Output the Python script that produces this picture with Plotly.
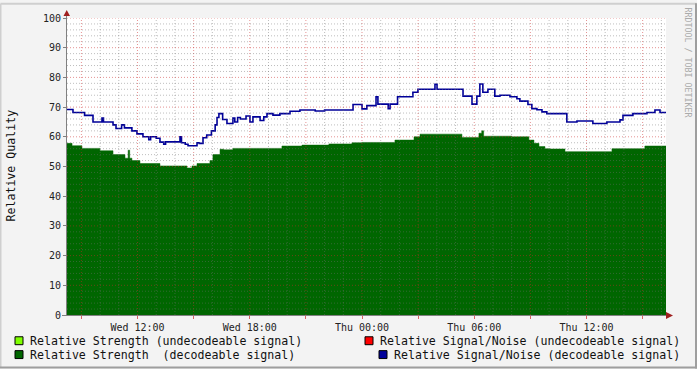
import plotly.graph_objects as go
import math

# ---- data (hours since Wed 00:00) ----
snr_t = [8.23, 8.55, 9.17, 9.62, 10.10, 10.18, 10.69, 10.85, 11.15, 11.30, 11.70, 11.97,
         12.29, 12.60, 12.70, 13.00, 13.20, 13.40, 13.50, 14.20, 14.27, 14.35, 14.55, 14.70,
         15.18, 15.30, 15.50, 15.70, 15.95, 16.15, 16.25, 16.35, 16.55, 16.78, 17.10, 17.20,
         17.35, 17.50, 17.80, 18.01, 18.17, 18.55, 18.75, 18.92, 19.24, 19.61, 20.15, 20.68,
         21.50, 22.00, 23.52, 24.00, 24.26, 24.75, 24.85, 25.40, 25.50, 25.90, 26.72, 26.99,
         27.90, 28.01, 29.40, 29.88, 30.14, 30.30, 30.46, 30.73, 31.10, 31.37, 31.91, 32.28,
         32.44, 32.87, 33.08, 33.35, 33.62, 33.88, 34.95, 35.49, 36.34, 37.09, 37.79, 37.95,
         38.48, 39.23, 39.66, 39.93, 40.25]
snr_v = [69.2, 68.2, 67.2, 65.0, 66.3, 65.0, 64.0, 62.8, 64.0, 63.0, 62.0, 61.0,
         60.0, 59.0, 60.0, 59.5, 58.2, 57.5, 58.3, 58.3, 60.0, 58.0, 57.5, 57.0,
         58.0, 57.8, 59.7, 60.6, 62.0, 64.0, 66.5, 67.8, 65.8, 64.5, 66.3, 65.0,
         66.5, 66.0, 67.0, 65.0, 66.7, 65.5, 66.7, 67.8, 67.3, 67.8, 68.6, 69.0,
         68.7, 69.0, 70.9, 69.4, 70.5, 73.5, 71.0, 69.5, 71.0, 73.5, 75.0, 76.0,
         77.7, 76.0, 73.7, 71.0, 73.7, 77.8, 75.0, 76.0, 73.7, 74.0, 73.5, 72.8,
         72.0, 70.9, 69.5, 69.1, 68.4, 67.8, 65.0, 65.3, 64.5, 65.0, 65.7, 67.2,
         67.8, 68.2, 69.0, 68.2, 68.2]

str_t = [8.23, 8.50, 9.03, 9.99, 10.69, 11.33, 11.50, 11.58, 11.70, 12.13, 13.20, 14.64,
         14.91, 15.18, 15.87, 16.03, 16.41, 16.60, 17.10, 19.72, 20.79, 22.23, 23.46, 24.00,
         25.76, 26.78, 27.10, 29.34, 30.25, 30.40, 30.50, 32.01, 32.92, 33.19, 33.46, 33.78,
         34.05, 34.85, 37.36, 39.12, 40.25]
str_v = [57.8, 57.0, 56.1, 55.3, 54.0, 52.8, 55.5, 52.8, 52.0, 51.0, 50.2, 49.5,
         50.2, 51.0, 52.0, 54.0, 55.8, 55.6, 56.1, 56.9, 57.2, 57.6, 58.0, 58.1,
         58.9, 60.0, 60.9, 59.8, 61.2, 62.0, 60.2, 60.0, 58.9, 57.8, 56.7, 56.0,
         55.9, 55.0, 56.0, 56.9, 56.9]

xtick_vals = [9, 12, 15, 18, 21, 24, 27, 30, 33, 36, 39]
xtick_text = ["", "Wed 12:00", "", "Wed 18:00", "", "Thu 00:00", "", "Thu 06:00", "", "Thu 12:00", ""]

legend_labels = ["Relative Strength (undecodeable signal)",
                 "Relative Signal/Noise (undecodeable signal)",
                 "Relative Strength \u00a0(decodeable signal)",
                 "Relative Signal/Noise (decodeable signal)"]
legend_colors = ["#7FFF00", "#FF0000", "#006600", "#000099"]

X0, X1 = 8.23, 40.25
Y0, Y1 = 0, 100

# ---- geometry helpers ----
W, H = 697, 369
L, R, T, B = 67, 31, 15, 54
PW, PH = W - L - R, H - T - B
def px(x): return (x - L) / PW
def py(y): return (H - B - y) / PH

MONO = "DejaVu Sans Mono"
MAJ = "rgba(205,40,40,0.5)"
MIN = "rgba(110,110,110,0.45)"
DASH = "1px,2px"

fig = go.Figure()
fig.add_trace(go.Scatter(x=str_t, y=str_v, mode="lines",
                         line=dict(shape="hv", color="#006600", width=0.5),
                         fill="tozeroy", fillcolor="#006600", hoverinfo="skip"))
fig.add_trace(go.Scatter(x=snr_t, y=snr_v, mode="lines",
                         line=dict(shape="hv", color="#000099", width=1.6), hoverinfo="skip"))

axis_common = dict(showgrid=False, zeroline=False, showline=False,
                   ticks="outside", ticklen=3,
                   tickfont=dict(family=MONO, size=10, color="#222222"))

fig.update_xaxes(range=[X0, X1], tickmode="array", tickvals=xtick_vals, ticktext=xtick_text,
                 tickcolor="rgba(200,0,0,0.6)", **axis_common)
fig.update_yaxes(range=[Y0, Y1], tick0=0, dtick=10, tickcolor="#808080", **axis_common)

shapes = []
anns = []

# grid drawn above the data, as rrdtool does
h = math.ceil(X0)
while h <= X1:
    col = MAJ if h % 3 == 0 else MIN
    shapes.append(dict(type="line", xref="x", yref="y", x0=h, x1=h, y0=Y0, y1=Y1, layer="above",
                       line=dict(color=col, width=1, dash=DASH)))
    h += 1
for v in range(Y0 + 2, Y1 + 1, 2):
    col = MAJ if v % 10 == 0 else MIN
    shapes.append(dict(type="line", xref="x", yref="y", x0=X0, x1=X1, y0=v, y1=v, layer="above",
                       line=dict(color=col, width=1, dash=DASH)))

# frame
shapes.append(dict(type="line", xref="paper", yref="paper", x0=px(0.5), x1=px(696.5), y0=py(0.5), y1=py(0.5),
                   line=dict(color="#CFCFCF", width=2)))
shapes.append(dict(type="line", xref="paper", yref="paper", x0=px(0.5), x1=px(0.5), y0=py(0.5), y1=py(368.5),
                   line=dict(color="#CFCFCF", width=2)))
shapes.append(dict(type="line", xref="paper", yref="paper", x0=px(696), x1=px(696), y0=py(0), y1=py(369),
                   line=dict(color="#9E9E9E", width=2)))
shapes.append(dict(type="line", xref="paper", yref="paper", x0=px(0), x1=px(697), y0=py(368), y1=py(368),
                   line=dict(color="#9E9E9E", width=2)))
# axis lines + arrows
shapes.append(dict(type="line", xref="paper", yref="paper", x0=px(66.5), x1=px(66.5), y0=py(315), y1=py(10),
                   line=dict(color="#808080", width=1)))
shapes.append(dict(type="line", xref="paper", yref="paper", x0=px(62), x1=px(668), y0=py(315.5), y1=py(315.5),
                   line=dict(color="#808080", width=1)))
shapes.append(dict(type="path", xref="paper", yref="paper",
                   path=f"M {px(63.5)},{py(13)} L {px(70)},{py(13)} L {px(66.7)},{py(7)} Z",
                   fillcolor="#A02020", line=dict(width=0)))
shapes.append(dict(type="path", xref="paper", yref="paper",
                   path=f"M {px(666)},{py(312)} L {px(666)},{py(319)} L {px(673)},{py(315.5)} Z",
                   fillcolor="#A02020", line=dict(width=0)))

# legend
rows = [341, 355]
sq_x = [15, 365, 15, 379]
for i, (lab, col) in enumerate(zip(legend_labels, legend_colors)):
    yy = rows[i // 2]
    sx = sq_x[i]
    shapes.append(dict(type="rect", xref="paper", yref="paper",
                       x0=px(sx), x1=px(sx + 8), y0=py(yy - 4), y1=py(yy + 4),
                       fillcolor=col, line=dict(color="#000000", width=1)))
    anns.append(dict(xref="paper", yref="paper", x=px(sx + 13), y=py(yy), xanchor="left", yanchor="middle",
                     text=lab, showarrow=False, font=dict(family=MONO, size=11.6, color="#111111")))

# axis title
anns.append(dict(xref="paper", yref="paper", x=px(11), y=py(164), text="Relative Quality", textangle=-90,
                 showarrow=False, xanchor="center", yanchor="middle",
                 font=dict(family=MONO, size=11.6, color="#111111")))
# watermark
anns.append(dict(xref="paper", yref="paper", x=px(688), y=py(60), text="RRDTOOL / TOBI OETIKER", textangle=90,
                 showarrow=False, xanchor="center", yanchor="middle",
                 font=dict(family=MONO, size=8.3, color="#AAAAAA")))

fig.update_layout(width=W, height=H, margin=dict(l=L, r=R, t=T, b=B, pad=0),
                  paper_bgcolor="#F3F3F3", plot_bgcolor="#FFFFFF", showlegend=False,
                  shapes=shapes, annotations=anns)

fig.write_html("out.html")
